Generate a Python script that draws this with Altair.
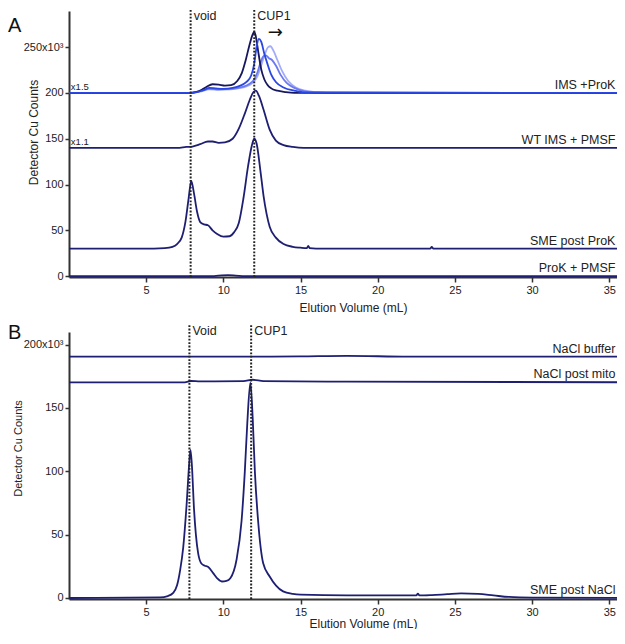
import altair as alt
import pandas as pd

# ---------------- Panel A data (x = elution volume mL, y = counts x10^3) ----------------
a_prok_pmsf_x = [0, 9.4, 9.9, 10.3, 10.8, 11.4, 36]
a_prok_pmsf_y = [0, 0, 0.8, 1.0, 0.6, 0, 0]

a_sme_x = [0, 5.5, 6.2, 6.7, 7.0, 7.3, 7.55, 7.75, 7.92, 8.1, 8.3, 8.5, 8.75, 9.0, 9.3, 9.6,
           10.0, 10.4, 10.7, 11.0, 11.3, 11.6, 11.85, 12.0, 12.15, 12.4, 12.6, 12.8, 13.0,
           13.4, 13.9, 14.5, 15.0, 15.4, 15.5, 15.6, 16.0, 23.4, 23.5, 23.6, 36]
a_sme_y = [30, 30, 30.5, 32, 35, 42, 60, 85, 104, 90, 70, 59, 56.5, 55.5, 50, 46,
           43, 43.5, 48, 58, 85, 120, 143, 150, 145, 115, 88, 68, 54,
           42, 35, 32, 31, 30.5, 33, 30.5, 30, 30, 32, 30, 30]

a_wt_x = [0, 7.0, 7.6, 8.0, 8.5, 9.0, 9.3, 9.7, 10.1, 10.6, 11.0, 11.4, 11.7, 11.95, 12.1,
          12.3, 12.6, 13.0, 13.4, 13.9, 14.5, 15.2, 36]
a_wt_y = [140, 140, 141, 141.5, 144, 147, 147, 145.5, 146, 150, 161, 178, 192, 201, 202.5,
          197, 182, 160, 148, 143, 141, 140, 140]

a_ims1_x = [0, 7.6, 8.2, 8.6, 8.9, 9.3, 9.7, 10.1, 10.5, 10.9, 11.2, 11.45, 11.7, 11.9, 12.0,
            12.1, 12.25, 12.45, 12.65, 12.85, 13.1, 13.5, 14.0, 14.6, 36]
a_ims1_y = [200, 200, 201, 203.5, 206.5, 209.5, 209, 208, 208.5, 213, 222, 236, 253, 264, 267,
            262, 246, 226, 215, 209, 205, 202.5, 201, 200, 200]

a_ims2_x = [0, 7.7, 8.3, 8.7, 9.1, 9.5, 10.0, 10.6, 11.1, 11.5, 11.8, 12.0, 12.15, 12.3, 12.45,
            12.65, 12.85, 13.1, 13.4, 13.9, 14.6, 15.3, 36]
a_ims2_y = [200, 200, 201, 203, 205.5, 205, 204.5, 205.5, 208, 212, 219, 232, 250, 259, 256,
            243, 232, 220, 212, 206, 202.5, 200.5, 200]

a_ims3_x = [0, 7.8, 8.5, 9.1, 9.7, 10.5, 11.2, 11.7, 12.0, 12.2, 12.4, 12.6, 12.75, 12.95,
            13.15, 13.4, 13.7, 14.1, 14.6, 15.2, 15.9, 36]
a_ims3_y = [200, 200, 202, 204.5, 204, 204.5, 206.5, 210, 215, 222, 233, 240, 241, 238,
            236, 230, 220, 211, 205.5, 202, 200.5, 200]

a_ims4_x = [0, 7.8, 8.5, 9.1, 9.7, 10.5, 11.3, 11.9, 12.2, 12.45, 12.7, 12.9, 13.05, 13.25,
            13.5, 13.8, 14.2, 14.7, 15.3, 16.0, 16.8, 36]
a_ims4_y = [200, 200, 201.5, 204, 203.5, 204, 206, 211, 218, 230, 243, 250, 251, 246,
            236, 224, 213, 206, 202.5, 201, 200, 200]

a_labels = ["IMS +ProK", "WT IMS + PMSF", "SME post ProK", "ProK + PMSF"]
a_label_y = [200, 140, 30, 0]
a_scale_notes = ["x1.5", "x1.1"]
a_scale_note_y = [200, 140]
a_marker_x = [7.88, 12.0]
a_marker_text = ["void", "CUP1"]

# ---------------- Panel B data ----------------
b_buffer_x = [0, 10, 15, 18, 22, 36]
b_buffer_y = [190.5, 190.5, 190.8, 191.2, 190.5, 190.5]

b_mito_x = [0, 7.5, 7.9, 8.5, 11.3, 11.9, 12.6, 18, 36]
b_mito_y = [170.3, 170.3, 171.3, 171, 171.2, 172.3, 171.2, 170.8, 170.3]

b_sme_x = [0, 5.9, 6.4, 6.75, 7.0, 7.2, 7.4, 7.62, 7.78, 7.87, 7.96, 8.1, 8.22, 8.37, 8.59,
           8.8, 9.02, 9.34, 9.6, 9.9, 10.2, 10.45, 10.85, 11.18, 11.39, 11.55, 11.75, 11.9,
           12.04, 12.25, 12.58, 13.0, 13.4, 13.87, 14.5, 15.0, 18, 22.5, 22.6, 22.7, 23.5,
           24.5, 25.4, 26.5, 27.5, 28.5, 30, 36]
b_sme_y = [0, 0.5, 1.5, 4, 10, 22, 40, 74, 105, 117, 105, 70, 50, 35, 27,
           25.5, 24.5, 19.6, 15.5, 13, 13.5, 15.6, 30, 61, 100, 138, 170, 142,
           100, 61, 27.4, 17, 10, 5.2, 3.2, 2.6, 2, 2, 3.5, 2, 2.3,
           3, 3.6, 3.2, 2, 0.8, 0.3, 0]

b_labels = ["NaCl buffer", "NaCl post mito", "SME post NaCl"]
b_label_y = [190.5, 170.3, 0]
b_marker_x = [7.8, 11.8]
b_marker_text = ["Void", "CUP1"]

x_ticks = [5, 10, 15, 20, 25, 30, 35]
a_y_ticks = [0, 50, 100, 150, 200, 250]
b_y_ticks = [0, 50, 100, 150, 200]

NAVY = "#1e1f72"
FONT = "Liberation Sans"

curve_ids = ["prok", "sme", "wt", "ims4", "ims3", "ims1", "ims2",
             "bbuf", "bmito", "bsme"]
curve_colors = [NAVY, NAVY, NAVY, "#a3acf9", "#6b7af2", "#17175f", "#2a47e3",
                NAVY, NAVY, NAVY]


def long_df(pairs):
    rows = []
    for cid, xs, ys in pairs:
        for i, (xv, yv) in enumerate(zip(xs, ys)):
            rows.append({"curve": cid, "x": xv, "y": yv, "i": i})
    return pd.DataFrame(rows)


df_a = long_df([
    ("prok", a_prok_pmsf_x, a_prok_pmsf_y),
    ("sme", a_sme_x, a_sme_y),
    ("wt", a_wt_x, a_wt_y),
    ("ims4", a_ims4_x, a_ims4_y),
    ("ims3", a_ims3_x, a_ims3_y),
    ("ims1", a_ims1_x, a_ims1_y),
    ("ims2", a_ims2_x, a_ims2_y),
])
df_b = long_df([
    ("bbuf", b_buffer_x, b_buffer_y),
    ("bmito", b_mito_x, b_mito_y),
    ("bsme", b_sme_x, b_sme_y),
])

W = 548
X_MAX = 35.5
XS = alt.Scale(domain=[0, X_MAX], nice=False, zero=False)
color_scale = alt.Scale(domain=curve_ids, range=curve_colors)


def x_axis(title_x, title_y):
    return alt.Axis(values=x_ticks, title="Elution Volume (mL)", titleX=title_x, titleY=title_y,
                    titleBaseline="middle", titleAlign="center", titleFontSize=12,
                    titleFontWeight="normal", titleFont=FONT, titleColor="#222",
                    labelFont=FONT, labelFontSize=11, labelColor="#222", labelFlush=False,
                    labelPadding=2, tickSize=5, tickWidth=1.5, tickColor="#333",
                    domainWidth=2, domainColor="#333", grid=False)


def y_axis(vals, top_label, title_x, title_y, title_size):
    return alt.Axis(values=vals,
                    labelExpr=f"datum.value == {top_label} ? '{top_label}x10³' : datum.label",
                    title="Detector Cu Counts", titleX=title_x, titleY=title_y, titleAngle=270,
                    titleBaseline="middle", titleAlign="center", titleFontSize=title_size,
                    titleFontWeight="normal", titleFont=FONT, titleColor="#222",
                    labelFont=FONT, labelFontSize=11, labelColor="#222",
                    labelPadding=2, tickSize=4, tickWidth=1.5, tickColor="#333",
                    domainWidth=2, domainColor="#333", grid=False)


def panel(df, ys, y_ticks, top_label, title_xy, ytitle_xy, ytitle_size, height,
          marker_x, marker_text, marker_top, marker_text_y, labels, label_y, letter,
          letter_y, extra_layers):
    XA = x_axis(*title_xy)
    YA = y_axis(y_ticks, top_label, ytitle_xy[0], ytitle_xy[1], ytitle_size)

    def X(f):
        return alt.X(f, scale=XS, axis=XA)

    def Y(f):
        return alt.Y(f, scale=ys, axis=YA)

    lines = alt.Chart(df).mark_line(interpolate="monotone", strokeWidth=1.8, clip=True).encode(
        x=X("x:Q"), y=Y("y:Q"),
        color=alt.Color("curve:N", scale=color_scale, legend=None),
        order="i:Q",
    )
    mk = pd.DataFrame({"x": marker_x, "t": marker_text,
                       "y": [ys.domain[0]] * len(marker_x), "y2": [marker_top] * len(marker_x),
                       "ty": [marker_text_y] * len(marker_x)})
    rules = alt.Chart(mk).mark_rule(color="#222", strokeWidth=2, strokeDash=[1.8, 1.6]).encode(
        x=X("x:Q"), y=Y("y:Q"), y2="y2:Q")
    mtext = alt.Chart(mk).mark_text(align="left", baseline="middle", dx=3, fontSize=12.5,
                                    font=FONT, color="#222").encode(
        x=X("x:Q"), y=Y("ty:Q"), text="t:N")
    lb = pd.DataFrame({"t": labels, "y": label_y, "x": [X_MAX - 0.1] * len(labels)})
    ltext = alt.Chart(lb).mark_text(align="right", baseline="alphabetic", dy=-4, fontSize=12.5,
                                    font=FONT, color="#222").encode(
        x=X("x:Q"), y=Y("y:Q"), text="t:N")
    letter_ch = alt.Chart(pd.DataFrame({"t": [letter]})).mark_text(
        align="left", baseline="alphabetic", fontSize=20, font=FONT, color="#111").encode(
        x=alt.value(-61), y=alt.value(letter_y), text="t:N")
    layers = [lines, rules, mtext, ltext, letter_ch] + extra_layers(X, Y)
    return alt.layer(*layers).properties(width=W, height=height)


def a_extras(X, Y):
    notes = pd.DataFrame({"t": a_scale_notes, "y": a_scale_note_y, "x": [0.12] * 2})
    ntext = alt.Chart(notes).mark_text(align="left", baseline="alphabetic", dy=-3, fontSize=9.5,
                                       font=FONT, color="#222").encode(
        x=X("x:Q"), y=Y("y:Q"), text="t:N")
    arrow = alt.Chart(pd.DataFrame({"t": ["→"], "x": [13.37], "y": [265]})).mark_text(
        align="center", baseline="middle", fontSize=18, font="DejaVu Sans", color="#111").encode(
        x=X("x:Q"), y=Y("y:Q"), text="t:N")
    return [ntext, arrow]


def b_extras(X, Y):
    return []


ys_a = alt.Scale(domain=[-1, 289.5], nice=False, zero=False)
ys_b = alt.Scale(domain=[-0.8, 210], nice=False, zero=False)

panel_a = panel(df_a, ys_a, a_y_ticks, 250, (284, 30), (-36, 121), 12, 266,
                a_marker_x, a_marker_text, 290.6, 284, a_labels, a_label_y, "A", 21, a_extras)
panel_b = panel(df_b, ys_b, b_y_ticks, 200, (294, 24), (-51, 116), 11, 267,
                b_marker_x, b_marker_text, 216, 211, b_labels, b_label_y, "B", 7, b_extras)

chart = alt.vconcat(panel_a, panel_b, spacing=10).properties(
    padding={"left": 0, "right": 0, "top": 0, "bottom": 0}
).configure_view(stroke=None)

chart.save("out.html", embed_options={"renderer": "svg", "actions": False})
